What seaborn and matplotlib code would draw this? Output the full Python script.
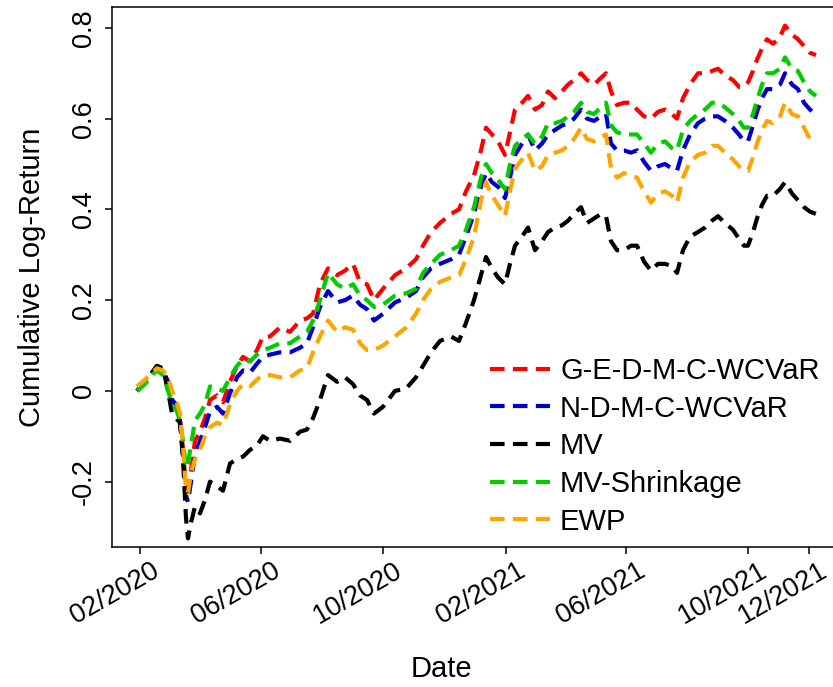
import pandas as pd
import matplotlib
matplotlib.use("Agg")
import matplotlib.pyplot as plt
import matplotlib.transforms as mtransforms
from matplotlib.lines import Line2D
import seaborn as sns

# values
dates = [
    "2020-01-29", "2020-02-06", "2020-02-13", "2020-02-18", "2020-02-24", "2020-02-29", "2020-03-04", "2020-03-08", "2020-03-12", "2020-03-15",
    "2020-03-18", "2020-03-20", "2020-03-23", "2020-03-27", "2020-04-01", "2020-04-06", "2020-04-11", "2020-04-18", "2020-04-24", "2020-05-01",
    "2020-05-08", "2020-05-14", "2020-05-21", "2020-05-28", "2020-06-03", "2020-06-10", "2020-06-20", "2020-06-30", "2020-07-10", "2020-07-17",
    "2020-07-23", "2020-07-30", "2020-08-07", "2020-08-16", "2020-08-24", "2020-09-01", "2020-09-08", "2020-09-15", "2020-09-22", "2020-10-01",
    "2020-10-13", "2020-10-24", "2020-11-03", "2020-11-10", "2020-11-18", "2020-11-27", "2020-12-08", "2020-12-16", "2020-12-23", "2020-12-31",
    "2021-01-07", "2021-01-12", "2021-01-18", "2021-01-24", "2021-01-31",
    "2021-02-05", "2021-02-10", "2021-02-17", "2021-02-23", "2021-03-02", "2021-03-09", "2021-03-15", "2021-03-22", "2021-03-29", "2021-04-04",
    "2021-04-10", "2021-04-17", "2021-04-23", "2021-04-30", "2021-05-07", "2021-05-12", "2021-05-17", "2021-05-23", "2021-05-30",
    "2021-06-06", "2021-06-12", "2021-06-19", "2021-06-26", "2021-07-03", "2021-07-10", "2021-07-17", "2021-07-22", "2021-07-28", "2021-08-04",
    "2021-08-12", "2021-08-19", "2021-08-26", "2021-09-01", "2021-09-08", "2021-09-16", "2021-09-22", "2021-09-27", "2021-10-01",
    "2021-10-06", "2021-10-10", "2021-10-15", "2021-10-20", "2021-10-26", "2021-11-02", "2021-11-07", "2021-11-14", "2021-11-20", "2021-11-26",
    "2021-12-02", "2021-12-08",
]

g_e_d_m_c_wcvar = [
    0.00, 0.02, 0.04, 0.055, 0.045, 0.02, -0.02, -0.03, -0.065, -0.13,
    -0.22, -0.21, -0.175, -0.11, -0.09, -0.06, -0.02, -0.01, -0.025, 0.02,
    0.055, 0.075, 0.065, 0.09, 0.12, 0.12, 0.14, 0.13, 0.155, 0.16,
    0.17, 0.235, 0.27, 0.255, 0.265, 0.28, 0.24, 0.235, 0.20, 0.225,
    0.255, 0.27, 0.29, 0.32, 0.35, 0.37, 0.39, 0.40, 0.44, 0.475, 0.53, 0.58, 0.565, 0.55, 0.52,
    0.57, 0.62, 0.635, 0.65, 0.62, 0.63, 0.66, 0.645, 0.66, 0.675, 0.685, 0.70, 0.685, 0.675, 0.69, 0.70, 0.66, 0.63, 0.635,
    0.635, 0.62, 0.605, 0.60, 0.615, 0.62, 0.61, 0.60, 0.645, 0.675, 0.70, 0.70, 0.705, 0.71, 0.695, 0.685, 0.67, 0.67, 0.68,
    0.705, 0.73, 0.755, 0.775, 0.765, 0.78, 0.805, 0.785, 0.775, 0.76, 0.745, 0.74,
]

n_d_m_c_wcvar = [
    0.00, 0.02, 0.04, 0.055, 0.045, 0.02, -0.02, -0.03, -0.065, -0.14,
    -0.23, -0.245, -0.20, -0.14, -0.11, -0.08, -0.045, -0.035, -0.05, -0.005,
    0.03, 0.045, 0.04, 0.06, 0.075, 0.08, 0.085, 0.085, 0.095, 0.105,
    0.14, 0.185, 0.22, 0.195, 0.20, 0.21, 0.19, 0.18, 0.155, 0.17,
    0.195, 0.205, 0.22, 0.25, 0.27, 0.28, 0.29, 0.30, 0.34, 0.39, 0.45, 0.48, 0.46, 0.45, 0.425,
    0.47, 0.52, 0.545, 0.565, 0.53, 0.545, 0.565, 0.575, 0.585, 0.59, 0.60, 0.62, 0.60, 0.595, 0.605, 0.61, 0.545, 0.53, 0.53,
    0.525, 0.53, 0.505, 0.485, 0.495, 0.50, 0.49, 0.485, 0.53, 0.565, 0.59, 0.60, 0.605, 0.605, 0.595, 0.58, 0.565, 0.55, 0.55,
    0.585, 0.615, 0.645, 0.665, 0.665, 0.675, 0.70, 0.675, 0.665, 0.635, 0.62, 0.61,
]

mv = [
    0.00, 0.02, 0.04, 0.055, 0.05, 0.0, -0.05, -0.06, -0.07, -0.15,
    -0.28, -0.325, -0.29, -0.255, -0.27, -0.24, -0.20, -0.21, -0.22, -0.16,
    -0.15, -0.145, -0.13, -0.12, -0.10, -0.11, -0.105, -0.11, -0.09, -0.085,
    -0.06, -0.02, 0.035, 0.02, 0.03, 0.015, -0.01, -0.02, -0.05, -0.035,
    0.0, 0.005, 0.03, 0.055, 0.085, 0.11, 0.12, 0.11, 0.15, 0.20, 0.255, 0.295, 0.27, 0.25, 0.235,
    0.28, 0.32, 0.34, 0.36, 0.31, 0.33, 0.35, 0.36, 0.365, 0.375, 0.39, 0.405, 0.37, 0.38, 0.39, 0.385, 0.33, 0.31, 0.31,
    0.32, 0.32, 0.285, 0.265, 0.28, 0.28, 0.275, 0.26, 0.31, 0.34, 0.35, 0.36, 0.375, 0.385, 0.37, 0.355, 0.335, 0.32, 0.32,
    0.35, 0.38, 0.41, 0.43, 0.43, 0.445, 0.46, 0.435, 0.42, 0.405, 0.395, 0.39,
]

mv_shrinkage = [
    0.00, 0.015, 0.035, 0.045, 0.035, 0.0, -0.025, -0.04, -0.065, -0.11,
    -0.17, -0.16, -0.12, -0.065, -0.05, -0.03, 0.01, 0.005, 0.0, 0.03,
    0.055, 0.07, 0.065, 0.08, 0.09, 0.095, 0.105, 0.105, 0.12, 0.13,
    0.155, 0.20, 0.26, 0.235, 0.225, 0.235, 0.21, 0.20, 0.185, 0.19,
    0.21, 0.215, 0.225, 0.26, 0.28, 0.30, 0.31, 0.32, 0.355, 0.405, 0.47, 0.50, 0.48, 0.465, 0.445,
    0.50, 0.54, 0.555, 0.565, 0.545, 0.56, 0.59, 0.59, 0.595, 0.605, 0.615, 0.635, 0.615, 0.61, 0.625, 0.635, 0.585, 0.57, 0.565,
    0.565, 0.565, 0.545, 0.525, 0.545, 0.55, 0.535, 0.53, 0.575, 0.595, 0.61, 0.62, 0.635, 0.635, 0.625, 0.61, 0.595, 0.58, 0.58,
    0.61, 0.64, 0.675, 0.70, 0.70, 0.71, 0.735, 0.71, 0.705, 0.68, 0.66, 0.65,
]

ewp = [
    0.01, 0.025, 0.04, 0.05, 0.045, 0.03, 0.0, -0.02, -0.05, -0.12,
    -0.22, -0.225, -0.18, -0.15, -0.13, -0.10, -0.08, -0.07, -0.075, -0.03,
    0.0, 0.015, 0.01, 0.025, 0.035, 0.035, 0.03, 0.03, 0.045, 0.05,
    0.085, 0.12, 0.155, 0.13, 0.14, 0.135, 0.105, 0.09, 0.09, 0.10,
    0.12, 0.14, 0.17, 0.20, 0.225, 0.24, 0.25, 0.255, 0.29, 0.34, 0.42, 0.46, 0.43, 0.41, 0.385,
    0.44, 0.49, 0.51, 0.525, 0.485, 0.495, 0.52, 0.525, 0.53, 0.54, 0.555, 0.58, 0.555, 0.55, 0.56, 0.565, 0.49, 0.47, 0.48,
    0.475, 0.47, 0.44, 0.415, 0.435, 0.44, 0.43, 0.415, 0.47, 0.505, 0.52, 0.525, 0.54, 0.54, 0.525, 0.51, 0.495, 0.485, 0.485,
    0.515, 0.545, 0.575, 0.595, 0.59, 0.605, 0.635, 0.61, 0.605, 0.58, 0.555, 0.545,
]

strategies = ["G-E-D-M-C-WCVaR", "N-D-M-C-WCVaR", "MV", "MV-Shrinkage", "EWP"]
colors = ["#FF0000", "#0000CD", "#000000", "#00CD00", "#FFA500"]

tick_dates = ["2020-02-01", "2020-06-01", "2020-10-01", "2021-02-01", "2021-06-01", "2021-10-01", "2021-12-01"]
tick_labels = ["02/2020", "06/2020", "10/2020", "02/2021", "06/2021", "10/2021", "12/2021"]
y_ticks = [-0.2, 0, 0.2, 0.4, 0.6, 0.8]
y_labels = ["-0.2", "0", "0.2", "0.4", "0.6", "0.8"]

# long format for seaborn
df = pd.DataFrame({"Date": pd.to_datetime(dates)})
for name, vals in zip(strategies, [g_e_d_m_c_wcvar, n_d_m_c_wcvar, mv, mv_shrinkage, ewp]):
    df[name] = vals
long = df.melt(id_vars="Date", var_name="Strategy", value_name="Cumulative Log-Return")

sns.set_style("ticks")
plt.rcParams["font.family"] = ["Liberation Sans", "DejaVu Sans"]
plt.rcParams["text.color"] = "black"
plt.rcParams["axes.labelcolor"] = "black"
plt.rcParams["xtick.color"] = "black"
plt.rcParams["ytick.color"] = "black"

fig = plt.figure(figsize=(8.33, 6.87), dpi=100)
ax = fig.add_axes([112 / 833, 1 - 547 / 687, 1 - 112 / 833, 540 / 687])

dash = (3.5, 2)
sns.lineplot(
    data=long, x="Date", y="Cumulative Log-Return",
    hue="Strategy", hue_order=strategies, palette=dict(zip(strategies, colors)),
    style="Strategy", style_order=strategies, dashes={s: dash for s in strategies},
    linewidth=3, estimator=None, legend=False, ax=ax,
)

ax.set_xlim(pd.Timestamp("2020-01-04"), pd.Timestamp("2021-12-25"))
ax.set_ylim(-0.344, 0.846)

for side in ["left", "top", "bottom"]:
    ax.spines[side].set_linewidth(1.1)
    ax.spines[side].set_color("black")
ax.spines["right"].set_visible(False)

ax.set_xticks(pd.to_datetime(tick_dates))
ax.set_xticklabels(tick_labels)
ax.set_yticks(y_ticks)
ax.set_yticklabels(y_labels)
ax.tick_params(direction="out", length=5, width=1.1, colors="black", labelsize=19.5)
ax.tick_params(axis="x", pad=11)
ax.tick_params(axis="y", pad=6)

for lbl in ax.get_yticklabels():
    lbl.set_rotation(90)
    lbl.set_va("center")
    lbl.set_ha("right")

# R-style rotated date labels: right end sits just right of the tick
shift = mtransforms.ScaledTranslation(17 / 100, 0, fig.dpi_scale_trans)
for lbl in ax.get_xticklabels():
    lbl.set_rotation(30)
    lbl.set_ha("right")
    lbl.set_va("center")
    lbl.set_rotation_mode("anchor")
    lbl.set_transform(lbl.get_transform() + shift)

ax.set_xlabel("Date", fontsize=21)
ax.set_ylabel("Cumulative Log-Return", fontsize=21)
ax.xaxis.set_label_coords((441 - 112) / 721, -(655 - 547) / 540)
ax.yaxis.set_label_coords(-(112 - 46) / 721, 0.5)

handles = [Line2D([0], [0], color=c, lw=3, dashes=dash) for c in colors]
ax.legend(
    handles, strategies, loc="upper left",
    bbox_to_anchor=(490 / 833, 1 - 357 / 687), bbox_transform=fig.transFigure,
    frameon=False, fontsize=21, handlelength=2.05, handletextpad=0.35,
    labelspacing=0.33, borderpad=0, borderaxespad=0,
)

fig.savefig("out.png", dpi=100)
